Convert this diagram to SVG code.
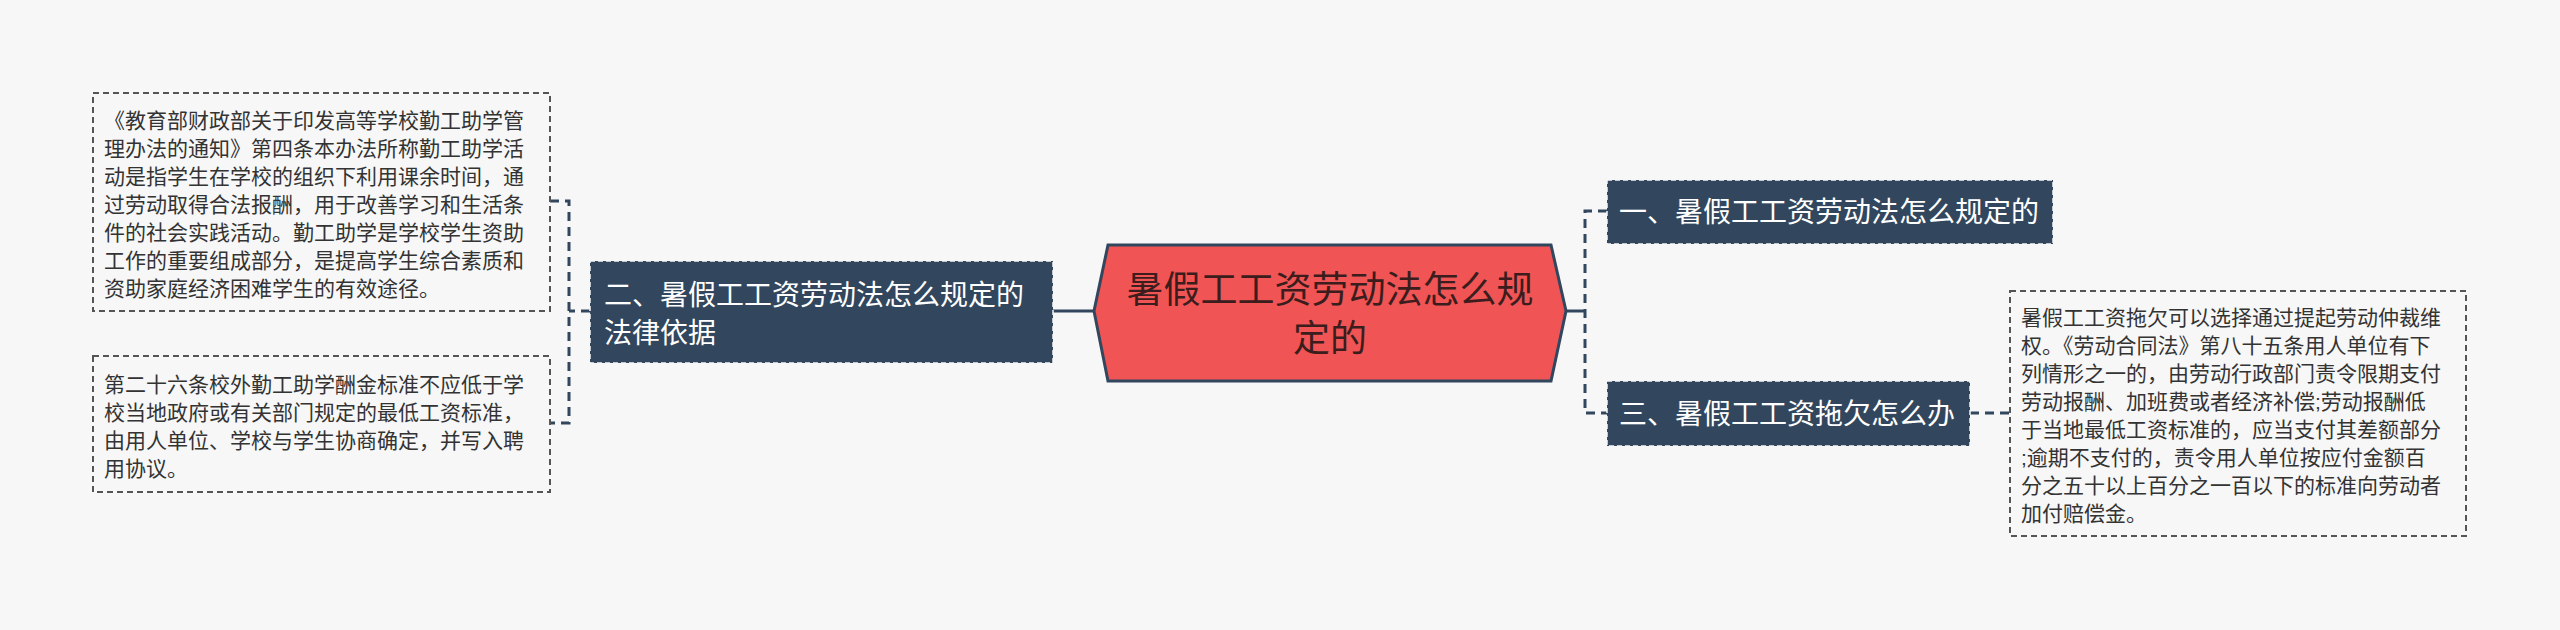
<svg xmlns="http://www.w3.org/2000/svg" width="2560" height="630" viewBox="0 0 2560 630">
<style>
.bg{fill:#f7f7f7}
.leaf{fill:#f7f7f7;stroke:#555;stroke-width:2;stroke-dasharray:6,4}
.sub{fill:#32475e;stroke:#f7f7f7;stroke-width:1.5;stroke-dasharray:5,3}
.t{font-family:"Liberation Sans","Noto Sans CJK SC",sans-serif}
.lt{font-size:21px;fill:#333}
.st{font-size:28px;fill:#fff}
.ct{font-size:37px;fill:#3b1d1d}
.c{fill:none;stroke:#32475e;stroke-width:3}
.cd{fill:none;stroke:#32475e;stroke-width:3;stroke-dasharray:9,6}
</style>
<rect class="bg" width="2560" height="630"/>
<g id="connectors">
<line class="c" x1="1053" y1="311" x2="1094" y2="311"/>
<line class="c" x1="1566" y1="311" x2="1585" y2="311"/>
<path class="cd" d="M1607 211 H1585 V413 H1607"/>
<path class="cd" d="M590 311 H569"/>
<path class="cd" d="M550 201 H569 V423 H550"/>
<path class="cd" d="M1970 413 H2010"/>
</g>
<g id="center">
<polygon points="1108,245 1551,245 1566,311 1551,381 1108,381 1094,311" fill="#f05454" stroke="#32475e" stroke-width="3"/>
<text class="t ct" text-anchor="middle"><tspan x="1330" y="303">暑假工工资劳动法怎么规</tspan><tspan x="1330" y="352">定的</tspan></text>
</g>
<g id="node2">
<rect class="sub" x="590" y="261" width="463" height="102"/>
<text class="t st"><tspan x="604" y="305">二、暑假工工资劳动法怎么规定的</tspan><tspan x="604" y="343">法律依据</tspan></text>
</g>
<g id="node1">
<rect class="sub" x="1607" y="180" width="446" height="64"/>
<text class="t st" x="1619" y="222">一、暑假工工资劳动法怎么规定的</text>
</g>
<g id="node3">
<rect class="sub" x="1607" y="381" width="363" height="65"/>
<text class="t st" x="1619" y="424">三、暑假工工资拖欠怎么办</text>
</g>
<g id="leaf1">
<rect class="leaf" x="93" y="93" width="457" height="218"/>
<text class="t lt"><tspan x="104" y="128">《教育部财政部关于印发高等学校勤工助学管</tspan><tspan x="104" y="156">理办法的通知》第四条本办法所称勤工助学活</tspan><tspan x="104" y="184">动是指学生在学校的组织下利用课余时间，通</tspan><tspan x="104" y="212">过劳动取得合法报酬，用于改善学习和生活条</tspan><tspan x="104" y="240">件的社会实践活动。勤工助学是学校学生资助</tspan><tspan x="104" y="268">工作的重要组成部分，是提高学生综合素质和</tspan><tspan x="104" y="296">资助家庭经济困难学生的有效途径。</tspan></text>
</g>
<g id="leaf2">
<rect class="leaf" x="93" y="356" width="457" height="136"/>
<text class="t lt"><tspan x="104" y="392">第二十六条校外勤工助学酬金标准不应低于学</tspan><tspan x="104" y="420">校当地政府或有关部门规定的最低工资标准，</tspan><tspan x="104" y="448">由用人单位、学校与学生协商确定，并写入聘</tspan><tspan x="104" y="476">用协议。</tspan></text>
</g>
<g id="leaf3">
<rect class="leaf" x="2010" y="291" width="456" height="245"/>
<text class="t lt"><tspan x="2021" y="325">暑假工工资拖欠可以选择通过提起劳动仲裁维</tspan><tspan x="2021" y="353">权。《劳动合同法》第八十五条用人单位有下</tspan><tspan x="2021" y="381">列情形之一的，由劳动行政部门责令限期支付</tspan><tspan x="2021" y="409">劳动报酬、加班费或者经济补偿;劳动报酬低</tspan><tspan x="2021" y="437">于当地最低工资标准的，应当支付其差额部分</tspan><tspan x="2021" y="465">;逾期不支付的，责令用人单位按应付金额百</tspan><tspan x="2021" y="493">分之五十以上百分之一百以下的标准向劳动者</tspan><tspan x="2021" y="521">加付赔偿金。</tspan></text>
</g>
</svg>
